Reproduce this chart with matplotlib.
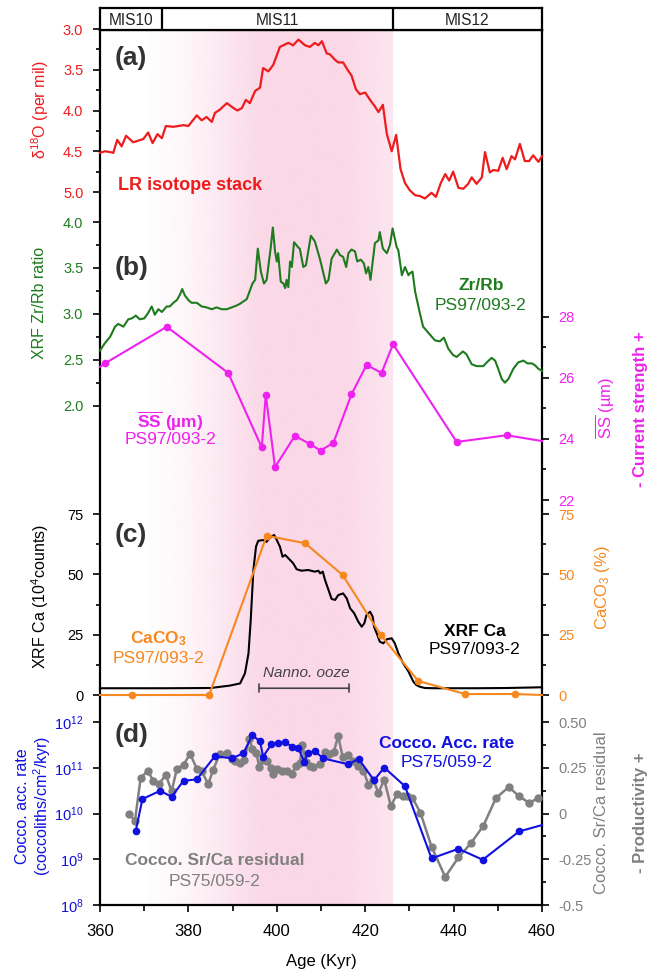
import numpy as np
import matplotlib
matplotlib.use('Agg')
import matplotlib.pyplot as plt
from matplotlib.colors import to_rgb
from matplotlib.ticker import NullLocator, LogFormatterMathtext

plt.rcParams['font.family'] = ['Liberation Sans', 'DejaVu Sans']
plt.rcParams['mathtext.fontset'] = 'custom'
plt.rcParams['mathtext.rm'] = 'Liberation Sans'
plt.rcParams['mathtext.it'] = 'Liberation Sans:italic'
plt.rcParams['mathtext.bf'] = 'Liberation Sans:bold'

# (a) LR04 benthic isotope stack
lr_age = [360.0, 361.1, 362.3, 363.0, 363.9, 364.9, 365.9, 367.5, 369.8, 370.9, 371.9, 373.0,
          374.0, 374.9, 376.6, 378.9, 380.0, 381.9, 383.0, 384.1, 385.3, 386.0, 387.1, 388.7,
          390.2, 391.1, 392.1, 393.0, 393.9, 395.1, 396.2, 396.9, 398.1, 399.2, 400.7, 402.6,
          403.7, 404.9, 406.4, 407.5, 408.6, 409.4, 410.2, 411.3, 412.0, 413.2, 413.9, 415.0,
          416.0, 416.9, 417.9, 418.8, 420.0, 421.1, 422.2, 423.0, 424.0, 424.9, 426.0, 427.0,
          428.0, 429.0, 430.1, 431.3, 432.4, 433.5, 435.0, 436.0, 437.1, 438.1, 439.0, 439.9,
          441.1, 442.2, 443.3, 444.1, 445.2, 446.4, 447.1, 448.2, 449.0, 450.1, 451.1, 452.0,
          453.1, 453.9, 455.0, 456.1, 457.1, 458.0, 459.2, 460.0]
lr_d18o = [4.52, 4.50, 4.51, 4.52, 4.36, 4.44, 4.31, 4.39, 4.35, 4.27, 4.40, 4.29,
           4.34, 4.19, 4.20, 4.18, 4.19, 4.06, 4.12, 4.08, 4.14, 4.03, 3.99, 3.91,
           3.97, 4.00, 3.97, 3.87, 3.91, 3.76, 3.72, 3.48, 3.52, 3.44, 3.22, 3.17,
           3.20, 3.13, 3.20, 3.22, 3.17, 3.20, 3.15, 3.30, 3.31, 3.38, 3.41, 3.41,
           3.50, 3.57, 3.74, 3.80, 3.78, 3.87, 3.95, 4.02, 3.93, 4.29, 4.50, 4.30,
           4.72, 4.89, 4.98, 5.04, 5.05, 5.08, 5.01, 5.06, 4.89, 4.78, 4.86, 4.75,
           4.95, 4.96, 4.90, 4.82, 4.90, 4.82, 4.51, 4.76, 4.73, 4.74, 4.58, 4.72,
           4.56, 4.60, 4.41, 4.62, 4.62, 4.55, 4.63, 4.56]

# (b) XRF Zr/Rb, PS97/093-2
zr_age = [360.0, 361.1, 362.3, 363.4, 364.1, 365.3, 366.4, 367.2, 368.1, 369.0, 370.0, 370.9,
          371.7, 372.4, 373.2, 374.0, 375.1, 375.8, 376.6, 377.4, 378.1, 378.6, 379.2, 380.0,
          380.7, 381.9, 383.0, 384.1, 385.3, 386.4, 387.5, 388.7, 389.8, 390.9, 391.7, 393.2,
          394.5, 395.1, 395.7, 396.4, 397.1, 397.7, 398.6, 399.1, 399.6, 400.0, 400.3, 400.9,
          401.5, 401.9, 402.2, 402.6, 403.0, 403.4, 403.9, 404.9, 405.2, 406.0, 406.6, 407.7,
          408.6, 409.8, 411.1, 411.7, 412.4, 413.6, 414.3, 415.0, 415.7, 416.2, 416.9, 417.7,
          418.2, 419.0, 419.7, 420.2, 420.7, 421.2, 422.2, 423.0, 423.3, 424.0, 424.9, 425.6,
          426.2, 427.1, 427.5, 428.3, 429.0, 429.8, 430.1, 430.7, 431.3, 432.4, 433.1, 434.7,
          435.8, 436.9, 437.8, 438.8, 439.9, 440.7, 442.1, 442.9, 444.1, 445.2, 446.7, 447.5,
          448.6, 449.4, 450.1, 450.9, 451.6, 452.4, 453.5, 454.6, 455.8, 456.7, 457.7, 458.4,
          459.2, 460.0]
zr_rb = [2.60, 2.68, 2.75, 2.86, 2.89, 2.86, 2.94, 2.95, 2.98, 2.94, 2.95, 3.01,
         3.08, 2.99, 3.05, 3.02, 3.08, 3.08, 3.12, 3.15, 3.21, 3.27, 3.20, 3.15,
         3.12, 3.12, 3.08, 3.07, 3.05, 3.07, 3.05, 3.05, 3.07, 3.09, 3.11, 3.16,
         3.33, 3.37, 3.71, 3.46, 3.33, 3.37, 3.71, 3.94, 3.68, 3.57, 3.66, 3.35,
         3.33, 3.28, 3.37, 3.29, 3.57, 3.51, 3.78, 3.72, 3.71, 3.51, 3.53, 3.85,
         3.79, 3.59, 3.33, 3.37, 3.60, 3.70, 3.64, 3.62, 3.51, 3.66, 3.70, 3.68,
         3.57, 3.59, 3.55, 3.44, 3.51, 3.37, 3.77, 3.80, 3.89, 3.71, 3.66, 3.75,
         3.93, 3.73, 3.69, 3.42, 3.51, 3.42, 3.44, 3.46, 3.24, 3.00, 2.86, 2.77,
         2.71, 2.70, 2.74, 2.62, 2.55, 2.53, 2.59, 2.56, 2.45, 2.43, 2.43, 2.47,
         2.52, 2.49, 2.40, 2.29, 2.25, 2.29, 2.40, 2.47, 2.49, 2.46, 2.46, 2.44,
         2.40, 2.38]

# (b) mean sortable silt, PS97/093-2
ss_age = [360.0, 361.1, 375.1, 389.0, 396.6, 397.5, 399.6, 404.1, 407.5, 409.9, 412.8,
          416.9, 420.3, 423.7, 426.3, 440.7, 452.0, 460.0]
ss_um = [26.36, 26.47, 27.67, 26.16, 23.72, 25.44, 23.08, 24.10, 23.83, 23.62, 23.87,
         25.46, 26.42, 26.16, 27.10, 23.90, 24.12, 23.93]

# (c) XRF Ca and CaCO3, PS97/093-2
ca_age = [360.0, 375.0, 385.0, 389.4, 391.7, 392.8, 393.6, 394.1, 394.7, 395.3, 395.8,
          396.9, 397.7, 398.3, 398.8, 399.4, 400.0, 400.7, 401.3, 401.9, 402.6, 403.7,
          404.5, 405.6, 407.1, 408.6, 409.4, 409.8, 410.4, 410.9, 411.7, 412.4, 413.2,
          413.9, 415.0, 415.8, 416.6, 417.5, 418.4, 419.2, 419.8, 420.3, 421.1, 421.7,
          422.0, 422.6, 423.3, 424.1, 424.9, 426.0, 426.7, 427.5, 428.6, 429.8, 430.9,
          431.6, 432.4, 433.5, 436.0, 445.0, 452.0, 460.0]
ca_counts = [2.8, 2.8, 2.9, 3.9, 4.8, 9.0, 17.3, 31.1, 51.8, 61.5, 63.9,
             64.2, 63.5, 64.9, 65.6, 66.3, 64.2, 61.5, 57.3, 58.0, 56.7, 54.6,
             52.1, 51.5, 51.8, 51.1, 51.5, 50.4, 51.1, 47.7, 43.5, 39.8, 39.4,
             41.4, 42.1, 40.1, 35.9, 33.9, 30.5, 28.3, 29.7, 33.2, 34.5, 32.4,
             28.3, 25.6, 22.1, 21.4, 23.1, 23.5, 21.4, 17.3, 13.1, 9.7, 5.5,
             4.1, 3.4, 2.9, 2.8, 2.8, 2.9, 3.2]
caco3_age = [360.0, 367.3, 384.7, 397.7, 406.4, 414.9, 423.5, 432.0, 442.6, 453.9, 460.0]
caco3_pct = [0.0, 0.0, 0.0, 66.0, 62.9, 49.7, 24.9, 5.8, 0.4, 0.4, 0.0]

# (d) coccolith accumulation rate (log10) and Sr/Ca residual, PS75/059-2
acc_age = [368.1, 369.6, 373.6, 376.2, 378.9, 381.9, 386.0, 389.8, 392.4, 394.5, 396.2,
           396.9, 398.8, 400.3, 401.9, 403.4, 404.9, 406.2, 407.1, 408.6, 410.5, 416.2,
           418.5, 422.0, 424.3, 429.0, 435.0, 441.1, 446.6, 454.8, 460.0]
acc_log = [9.63, 10.32, 10.50, 10.37, 10.72, 10.75, 11.26, 11.21, 11.32, 11.72, 11.58,
           11.25, 11.52, 11.55, 11.56, 11.47, 11.43, 11.14, 11.33, 11.37, 11.21, 11.08,
           11.20, 10.73, 11.01, 10.60, 9.02, 9.23, 8.99, 9.61, 9.75]
srca_age = [366.6, 367.9, 369.2, 370.8, 372.1, 373.4, 374.9, 376.2, 377.4, 378.9, 380.4,
            381.9, 383.0, 384.5, 385.6, 387.1, 388.7, 389.8, 390.5, 391.7, 392.6, 393.8,
            394.5, 395.4, 396.0, 396.9, 397.7, 398.6, 399.1, 400.0, 401.1, 402.2, 403.4,
            404.3, 405.2, 405.8, 406.6, 407.4, 408.3, 409.8, 410.9, 411.7, 412.9, 413.9,
            414.9, 416.0, 417.3, 418.4, 419.6, 420.7, 421.8, 423.0, 424.3, 425.8, 427.3,
            428.5, 429.5, 430.7, 432.5, 435.0, 438.1, 441.1, 443.9, 446.7, 449.6, 452.5,
            454.8, 457.1, 459.2]
srca_res = [0.0, -0.04, 0.195, 0.235, 0.177, 0.164, 0.213, 0.122, 0.246, 0.268, 0.327,
            0.246, 0.231, 0.162, 0.24, 0.327, 0.334, 0.30, 0.286, 0.277, 0.291, 0.41,
            0.353, 0.331, 0.258, 0.295, 0.286, 0.25, 0.217, 0.244, 0.231, 0.231, 0.217,
            0.262, 0.277, 0.376, 0.28, 0.262, 0.258, 0.273, 0.34, 0.327, 0.34, 0.424,
            0.31, 0.322, 0.286, 0.26, 0.236, 0.159, 0.186, 0.113, 0.186, 0.042, 0.11,
            0.096, 0.095, 0.086, 0.005, -0.18, -0.346, -0.24, -0.162, -0.068, 0.086, 0.146,
            0.095, 0.059, 0.086]

mis_names = ['MIS10', 'MIS11', 'MIS12']
mis_bounds = [360, 374, 426.3, 460]

RED = '#ee1c1c'
GREEN = '#1e7b1e'
MAGENTA = '#ee22ee'
ORANGE = '#f7881f'
BLUE = '#1010e0'
GRAY = '#808080'
LETTER = '#333333'

W, H = 653, 971
fig = plt.figure(figsize=(W / 100, H / 100), dpi=100)


def rect(top, bottom, left=100, right=542):
    return [left / W, 1 - bottom / H, (right - left) / W, (bottom - top) / H]


def ptext(x, y, s, color='black', size=12, **kw):
    fig.text(x / W, 1 - y / H, s, color=color, fontsize=size,
             ha=kw.pop('ha', 'center'), va=kw.pop('va', 'center'), **kw)


def panel(top, bottom, side, color, ylim, log=False):
    ax = fig.add_axes(rect(top, bottom))
    ax.patch.set_visible(False)
    for s in ax.spines.values():
        s.set_visible(False)
    if log:
        ax.set_yscale('log')
    ax.set_xlim(360, 460)
    ax.set_ylim(*ylim)
    ax.set_xticks([])
    ax.yaxis.set_ticks_position(side)
    ax.tick_params(axis='y', which='both', direction='out', color='black',
                   labelcolor=color, width=1.2, labelsize=10.5, pad=7)
    ax.tick_params(axis='y', which='major', length=5)
    ax.tick_params(axis='y', which='minor', length=3)
    return ax


# frame with age axis and MIS11 shading
frame = fig.add_axes(rect(30, 905))
xs = np.linspace(370, 426.3, 400)
rgba = np.zeros((1, xs.size, 4))
rgba[..., :3] = to_rgb('#fbd8e7')
rgba[0, :, 3] = np.interp(xs, [370, 380, 397, 415, 426.3], [0, 0.25, 1, 1, 0.65])
frame.imshow(rgba, extent=[370, 426.3, 0, 1], aspect='auto', interpolation='bilinear', zorder=0)
frame.set_xlim(360, 460)
frame.set_ylim(0, 1)
frame.set_yticks([])
for s in frame.spines.values():
    s.set_linewidth(1.6)
frame.set_xticks(range(360, 461, 20))
frame.set_xticks(range(370, 460, 20), minor=True)
frame.tick_params(axis='x', which='both', direction='out', width=1.2, labelsize=12, pad=9)
frame.tick_params(axis='x', which='major', length=5)
frame.tick_params(axis='x', which='minor', length=4)
ptext(321, 961, 'Age (Kyr)')

# MIS boxes
mis = fig.add_axes(rect(8, 30))
mis.set_xlim(360, 460)
mis.set_ylim(0, 1)
mis.set_xticks([])
mis.set_yticks([])
for s in mis.spines.values():
    s.set_linewidth(1.6)
for b in mis_bounds[1:-1]:
    mis.axvline(b, color='black', lw=1.6)
for name, a, b in zip(mis_names, mis_bounds[:-1], mis_bounds[1:]):
    mis.text((a + b) / 2, 0.45, name, ha='center', va='center', fontsize=11.2, color='#222222')

# (a)
ax_a = panel(29, 192, 'left', RED, (5.0, 3.0))
ax_a.set_yticks([3.0, 3.5, 4.0, 4.5, 5.0])
ax_a.set_yticklabels(['3.0', '3.5', '4.0', '4.5', '5.0'])
ax_a.set_yticks([3.25, 3.75, 4.25, 4.75], minor=True)
ax_a.plot(lr_age, lr_d18o, color=RED, lw=1.6, clip_on=False)
ptext(40, 110, r'δ$^{18}$O (per mil)', RED, 11.5, rotation=90)
ptext(115, 58, '(a)', LETTER, 19, fontweight='bold', ha='left')
ptext(118, 185, 'LR isotope stack', RED, 13, fontweight='bold', ha='left')

# (b)
ax_b = panel(222, 405.6, 'left', GREEN, (2.0, 4.0))
ax_b.set_yticks([2.0, 2.5, 3.0, 3.5, 4.0])
ax_b.set_yticklabels(['2.0', '2.5', '3.0', '3.5', '4.0'])
ax_b.set_yticks([2.25, 2.75, 3.25, 3.75], minor=True)
ax_b.plot(zr_age, zr_rb, color=GREEN, lw=1.5, clip_on=False)
ptext(40, 303, 'XRF Zr/Rb ratio', GREEN, 11.5, rotation=90)
ptext(115, 268, '(b)', LETTER, 19, fontweight='bold', ha='left')
ptext(481, 285, 'Zr/Rb', GREEN, 12.5, fontweight='bold')
ptext(481, 305, 'PS97/093-2', GREEN, 12.5)

ax_ss = panel(316.7, 500, 'right', MAGENTA, (22, 28))
ax_ss.set_yticks([22, 24, 26, 28])
ax_ss.set_yticks([23, 25, 27], minor=True)
ax_ss.plot(ss_age, ss_um, color=MAGENTA, lw=1.5, marker='o', ms=4.5,
           markevery=list(range(1, len(ss_age) - 1)), clip_on=False)
ptext(605, 408, r'$\overline{\mathrm{SS}}$ (µm)', MAGENTA, 12, rotation=90)
ptext(641, 409, '- Current strength +', MAGENTA, 12, fontweight='bold', rotation=90)
ptext(170, 421, r'$\overline{\mathbf{SS}}$ (µm)', MAGENTA, 12.5, fontweight='bold')
ptext(170, 439, 'PS97/093-2', MAGENTA, 12.5)

# (c)
ax_c = panel(514, 695, 'left', 'black', (0, 75))
ax_c.set_yticks([0, 25, 50, 75])
ax_c.set_yticks([12.5, 37.5, 62.5], minor=True)
ax_c.plot(ca_age, ca_counts, color='black', lw=1.5, clip_on=False)
ax_c.annotate('', xy=(396.0, 2.8), xytext=(416.4, 2.8),
              arrowprops=dict(arrowstyle='|-|, widthA=0.3, widthB=0.3', color='#444444', lw=1.2,
                              shrinkA=0, shrinkB=0))
ax_c.text(406.6, 9.2, 'Nanno. ooze', color='#444444', fontsize=11, style='italic',
          ha='center', va='center')
ptext(40, 597, r'XRF Ca (10$^4$counts)', 'black', 11.5, rotation=90)
ptext(115, 535, '(c)', LETTER, 19, fontweight='bold', ha='left')
ptext(475, 631, 'XRF Ca', 'black', 12.5, fontweight='bold')
ptext(475, 650, 'PS97/093-2', 'black', 12.5)

ax_cc = panel(514, 695, 'right', ORANGE, (0, 75))
ax_cc.set_yticks([0, 25, 50, 75])
ax_cc.set_yticks([12.5, 37.5, 62.5], minor=True)
ax_cc.plot(caco3_age, caco3_pct, color=ORANGE, lw=1.5, marker='o', ms=4.5,
           markevery=list(range(1, len(caco3_age) - 1)), clip_on=False)
ptext(603, 588, r'CaCO$_3$ (%)', ORANGE, 12, rotation=90)
ptext(158, 639, r'CaCO$_\mathbf{3}$', ORANGE, 12.5, fontweight='bold')
ptext(158, 658, 'PS97/093-2', ORANGE, 12.5)

# (d)
ax_g = panel(722.3, 905, 'right', GRAY, (-0.5, 0.5))
ax_g.set_yticks([-0.5, -0.25, 0, 0.25, 0.5])
ax_g.set_yticklabels(['-0.5', '-0.25', '0', '0.25', '0.50'])
ax_g.set_yticks([-0.375, -0.125, 0.125, 0.375], minor=True)
ax_g.plot(srca_age, srca_res, color=GRAY, lw=1.8, marker='o', ms=5, clip_on=False)
ptext(602, 813, 'Cocco. Sr/Ca residual', GRAY, 12, rotation=90)
ptext(640, 813, '- Productivity +', GRAY, 12, fontweight='bold', rotation=90)
ptext(215, 860, 'Cocco. Sr/Ca residual', GRAY, 12.5, fontweight='bold')
ptext(215, 881, 'PS75/059-2', GRAY, 12.5)

ax_d = panel(722.3, 905, 'left', BLUE, (1e8, 1e12), log=True)
ax_d.set_yticks([1e8, 1e9, 1e10, 1e11, 1e12])
ax_d.yaxis.set_major_formatter(LogFormatterMathtext())
ax_d.yaxis.set_minor_locator(NullLocator())
ax_d.plot(acc_age, 10 ** np.array(acc_log), color=BLUE, lw=1.5, marker='o', ms=4.5,
          markevery=list(range(len(acc_age) - 1)), clip_on=False)
ptext(23, 806, 'Cocco. acc. rate', BLUE, 11.5, rotation=90)
ptext(42, 806, r'(coccoliths/cm$^2$/kyr)', BLUE, 11.5, rotation=90)
ptext(115, 735, '(d)', LETTER, 19, fontweight='bold', ha='left')
ptext(447, 743, 'Cocco. Acc. rate', BLUE, 12.5, fontweight='bold')
ptext(447, 762, 'PS75/059-2', BLUE, 12.5)

fig.savefig('out.png', dpi=100)
